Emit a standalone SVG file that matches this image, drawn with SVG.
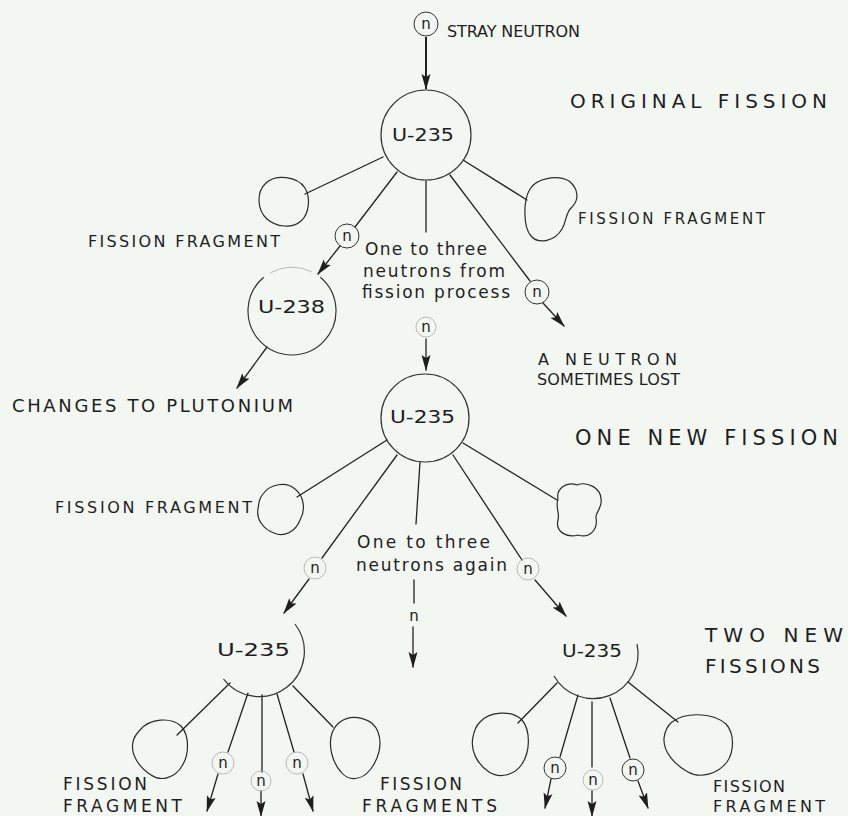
<svg xmlns="http://www.w3.org/2000/svg" width="848" height="816" viewBox="0 0 848 816">
  <defs>
    <style>
      .ink { stroke: #222; stroke-width: 1.3; fill: none; stroke-linecap: round; }
      .bold { stroke: #222; stroke-width: 2; fill: none; }
      .nuc { stroke: #333; stroke-width: 1.2; fill: none; }
      .frag { stroke: #2a2a2a; stroke-width: 1.2; fill: none; stroke-linejoin: round; }
      .ncirc { stroke: #333; stroke-width: 1; fill: none; }
      .faint { stroke: #aaa; stroke-width: 0.8; fill: none; }
      .cap { font-family: "DejaVu Sans", "Liberation Sans", sans-serif; fill: #1e1e1e; }
      .hand { font-family: "DejaVu Sans", "Liberation Sans", sans-serif; fill: #1e1e1e; }
      .n { font-family: "DejaVu Sans", sans-serif; font-size: 15px; fill: #1e1e1e; text-anchor: middle; }
      .iso { font-family: "DejaVu Sans", "Liberation Sans", sans-serif; font-size: 18px; fill: #1e1e1e; }
    </style>
    <marker id="ah" viewBox="0 0 16 10" refX="15" refY="5" markerWidth="16" markerHeight="10" markerUnits="userSpaceOnUse" orient="auto">
      <path d="M0,0.5 L16,5 L0,9.5 L3,5 Z" fill="#1e1e1e"/>
    </marker>
  </defs>

  <rect width="848" height="816" fill="#f3f7f1"/>

  <!-- connectors -->
  <g id="connectors">
    <!-- incoming stray neutron -->
    <line class="bold" x1="426" y1="37" x2="426" y2="89" marker-end="url(#ah)"/>
    <!-- original fission -->
    <line class="ink" x1="383" y1="157" x2="305" y2="194"/>
    <line class="ink" x1="463" y1="160" x2="527" y2="200"/>
    <line class="ink" x1="397" y1="172" x2="355" y2="227"/>
    <line class="ink" x1="340" y1="246" x2="318" y2="274" marker-end="url(#ah)"/>
    <line class="ink" x1="426" y1="181" x2="426" y2="232"/>
    <line class="ink" x1="450" y1="175" x2="530" y2="281"/>
    <line class="ink" x1="543" y1="303" x2="564" y2="326" marker-end="url(#ah)"/>
    <line class="ink" x1="426" y1="339" x2="426" y2="370" marker-end="url(#ah)"/>
    <line class="ink" x1="267" y1="347" x2="237" y2="388" marker-end="url(#ah)"/>
    <!-- one new fission -->
    <line class="ink" x1="387" y1="440" x2="297" y2="497"/>
    <line class="ink" x1="397" y1="455" x2="322" y2="558"/>
    <line class="ink" x1="309" y1="579" x2="284" y2="613" marker-end="url(#ah)"/>
    <line class="ink" x1="420" y1="462" x2="416" y2="524"/>
    <line class="ink" x1="453" y1="455" x2="522" y2="560"/>
    <line class="ink" x1="535" y1="580" x2="566" y2="616" marker-end="url(#ah)"/>
    <line class="ink" x1="463" y1="443" x2="557" y2="500"/>
    <line class="ink" x1="414" y1="580" x2="414" y2="603"/>
    <line class="ink" x1="413" y1="627" x2="413" y2="667" marker-end="url(#ah)"/>
    <!-- two new fissions: left -->
    <line class="ink" x1="230" y1="683" x2="177" y2="735"/>
    <line class="ink" x1="248" y1="693" x2="228" y2="752"/>
    <line class="ink" x1="218" y1="774" x2="207" y2="811" marker-end="url(#ah)"/>
    <line class="ink" x1="262" y1="695" x2="262" y2="772"/>
    <line class="ink" x1="261" y1="791" x2="261" y2="816" marker-end="url(#ah)"/>
    <line class="ink" x1="277" y1="694" x2="294" y2="752"/>
    <line class="ink" x1="303" y1="774" x2="313" y2="811" marker-end="url(#ah)"/>
    <line class="ink" x1="293" y1="686" x2="333" y2="727"/>
    <!-- two new fissions: right -->
    <line class="ink" x1="557" y1="683" x2="518" y2="723"/>
    <line class="ink" x1="578" y1="695" x2="560" y2="757"/>
    <line class="ink" x1="551" y1="779" x2="545" y2="808" marker-end="url(#ah)"/>
    <line class="ink" x1="592" y1="702" x2="592" y2="767"/>
    <line class="ink" x1="592" y1="791" x2="592" y2="816" marker-end="url(#ah)"/>
    <line class="ink" x1="610" y1="698" x2="630" y2="758"/>
    <line class="ink" x1="638" y1="781" x2="648" y2="808" marker-end="url(#ah)"/>
    <line class="ink" x1="628" y1="682" x2="678" y2="722"/>
  </g>

  <!-- neutrons -->
  <g id="neutron-stray">
    <circle class="ncirc" cx="426" cy="24" r="12"/>
    <text class="n" x="426" y="29">n</text>
    <text class="cap" x="447" y="37" font-size="16" textLength="133" lengthAdjust="spacing">STRAY NEUTRON</text>
  </g>
  <g id="neutron-a1"><circle class="ncirc" cx="347" cy="236" r="12"/><text class="n" x="347" y="241">n</text></g>
  <g id="neutron-a2"><circle class="faint" cx="426" cy="327" r="10"/><text class="n" x="426" y="332">n</text></g>
  <g id="neutron-a3"><circle class="ncirc" cx="537" cy="292" r="12"/><text class="n" x="537" y="297">n</text></g>
  <g id="neutron-b1"><circle class="faint" cx="315" cy="568" r="11"/><text class="n" x="315" y="573">n</text></g>
  <g id="neutron-b2"><text class="n" x="414" y="621">n</text></g>
  <g id="neutron-b3"><circle class="faint" cx="528" cy="569" r="11"/><text class="n" x="528" y="574">n</text></g>
  <g id="neutron-c1"><circle class="faint" cx="223" cy="763" r="11"/><text class="n" x="223" y="768">n</text></g>
  <g id="neutron-c2"><circle class="faint" cx="261" cy="781" r="10"/><text class="n" x="261" y="786">n</text></g>
  <g id="neutron-c3"><circle class="faint" cx="297" cy="763" r="11"/><text class="n" x="297" y="768">n</text></g>
  <g id="neutron-d1"><circle class="ncirc" cx="555" cy="768" r="11"/><text class="n" x="555" y="773">n</text></g>
  <g id="neutron-d2"><circle class="faint" cx="593" cy="780" r="10"/><text class="n" x="593" y="785">n</text></g>
  <g id="neutron-d3"><circle class="ncirc" cx="633" cy="770" r="11"/><text class="n" x="633" y="775">n</text></g>

  <!-- original fission -->
  <g id="u235-original">
    <circle class="nuc" cx="426" cy="135" r="45"/>
    <text class="iso" x="392" y="141" textLength="62" lengthAdjust="spacingAndGlyphs">U-235</text>
    <text class="cap" x="570" y="108" font-size="20" textLength="257" lengthAdjust="spacing">ORIGINAL FISSION</text>
  </g>
  <g id="fragment-a-left">
    <path class="frag" d="M266,183 C276,174 297,176 305,188 C311,198 309,214 301,221 C292,229 276,227 267,219 C257,210 256,192 266,183 Z"/>
    <text class="cap" x="88" y="247" font-size="16" textLength="192" lengthAdjust="spacing">FISSION FRAGMENT</text>
  </g>
  <g id="fragment-a-right">
    <path class="frag" d="M530,189 C536,179 556,174 569,181 C579,189 579,200 572,207 C565,213 567,221 562,229 C555,241 539,245 531,236 C523,227 523,200 530,189 Z"/>
    <text class="cap" x="578" y="224" font-size="15" textLength="187" lengthAdjust="spacing">FISSION FRAGMENT</text>
  </g>
  <g id="note-neutrons-from">
    <text class="hand" font-size="17">
      <tspan x="365" y="255" textLength="122" lengthAdjust="spacing">One to three</tspan>
      <tspan x="363" y="277" textLength="142" lengthAdjust="spacing">neutrons from</tspan>
      <tspan x="362" y="298" textLength="148" lengthAdjust="spacing">fission process</tspan>
    </text>
  </g>
  <g id="u238">
    <!-- outline broken where the incoming neutron arrives -->
    <path class="nuc" d="M320.3,277.3 A44,44 0 1 1 263.7,277.3"/>
    <path class="faint" d="M270,273 A44,44 0 0 1 312,272"/>
    <text class="iso" x="258" y="313" textLength="67" lengthAdjust="spacingAndGlyphs">U-238</text>
    <text class="cap" x="12" y="412" font-size="18" textLength="281" lengthAdjust="spacing">CHANGES TO PLUTONIUM</text>
  </g>
  <g id="note-lost">
    <text class="cap" font-size="16">
      <tspan x="538" y="365" textLength="139" lengthAdjust="spacing">A NEUTRON</tspan>
      <tspan x="537" y="385" textLength="143" lengthAdjust="spacing">SOMETIMES LOST</tspan>
    </text>
  </g>

  <!-- one new fission -->
  <g id="u235-second">
    <circle class="nuc" cx="425" cy="418" r="44"/>
    <text class="iso" x="390" y="423" textLength="65" lengthAdjust="spacingAndGlyphs">U-235</text>
    <text class="cap" x="575" y="445" font-size="21" textLength="263" lengthAdjust="spacing">ONE NEW FISSION</text>
  </g>
  <g id="fragment-b-left">
    <path class="frag" d="M263,494 C270,484 286,481 295,489 C304,496 306,510 300,520 C296,531 284,538 274,533 C263,529 256,519 258,509 C259,502 259,499 263,494 Z"/>
    <text class="cap" x="55" y="513" font-size="16" textLength="197" lengthAdjust="spacing">FISSION FRAGMENT</text>
  </g>
  <g id="fragment-b-right">
    <path class="frag" d="M558,499 C556,489 566,481 577,485 C587,481 601,488 601,499 C603,508 595,512 596,518 C598,529 590,539 578,535 C567,538 555,532 558,520 C560,513 555,507 558,499 Z"/>
  </g>
  <g id="note-neutrons-again">
    <text class="hand" font-size="17">
      <tspan x="357" y="548" textLength="133" lengthAdjust="spacing">One to three</tspan>
      <tspan x="356" y="571" textLength="151" lengthAdjust="spacing">neutrons again</tspan>
    </text>
  </g>

  <!-- two new fissions -->
  <g id="u235-third-left">
    <path class="nuc" d="M295,624 A45,45 0 0 1 223.5,679"/>
    <text class="iso" x="217" y="656" textLength="73" lengthAdjust="spacingAndGlyphs">U-235</text>
  </g>
  <g id="fragment-c-left">
    <path class="frag" d="M140,730 C150,718 171,717 181,726 C190,736 189,755 182,766 C175,778 161,782 151,775 C140,768 130,755 133,742 C134,737 136,734 140,730 Z"/>
    <text class="cap" font-size="17">
      <tspan x="63" y="790" textLength="84" lengthAdjust="spacing">FISSION</tspan>
      <tspan x="63" y="812" textLength="119" lengthAdjust="spacing">FRAGMENT</tspan>
    </text>
  </g>
  <g id="fragment-c-right">
    <path class="frag" d="M340,722 C352,713 373,718 378,732 C383,745 378,760 370,770 C362,780 349,782 341,772 C332,762 328,745 332,733 C334,728 336,725 340,722 Z"/>
  </g>
  <g id="label-fragments">
    <text class="cap" font-size="17">
      <tspan x="380" y="790" textLength="82" lengthAdjust="spacing">FISSION</tspan>
      <tspan x="362" y="812" textLength="135" lengthAdjust="spacing">FRAGMENTS</tspan>
    </text>
  </g>
  <g id="u235-third-right">
    <path class="nuc" d="M637,644 A45,45 0 0 1 554,676"/>
    <text class="iso" x="562" y="657" textLength="60" lengthAdjust="spacingAndGlyphs">U-235</text>
    <text class="cap" font-size="20">
      <tspan x="705" y="642" textLength="138" lengthAdjust="spacing">TWO NEW</tspan>
      <tspan x="705" y="673" textLength="115" lengthAdjust="spacing">FISSIONS</tspan>
    </text>
  </g>
  <g id="fragment-d-left">
    <path class="frag" d="M480,722 C490,711 512,710 522,720 C531,731 530,752 522,764 C515,775 500,779 489,772 C477,764 470,750 473,737 C474,731 476,726 480,722 Z"/>
  </g>
  <g id="fragment-d-right">
    <path class="frag" d="M672,722 C685,712 712,712 726,724 C735,734 734,752 727,762 C718,774 700,779 688,772 C675,765 663,752 664,738 C665,731 667,726 672,722 Z"/>
    <text class="cap" font-size="16">
      <tspan x="713" y="792" textLength="72" lengthAdjust="spacing">FISSION</tspan>
      <tspan x="713" y="812" textLength="112" lengthAdjust="spacing">FRAGMENT</tspan>
    </text>
  </g>
</svg>
